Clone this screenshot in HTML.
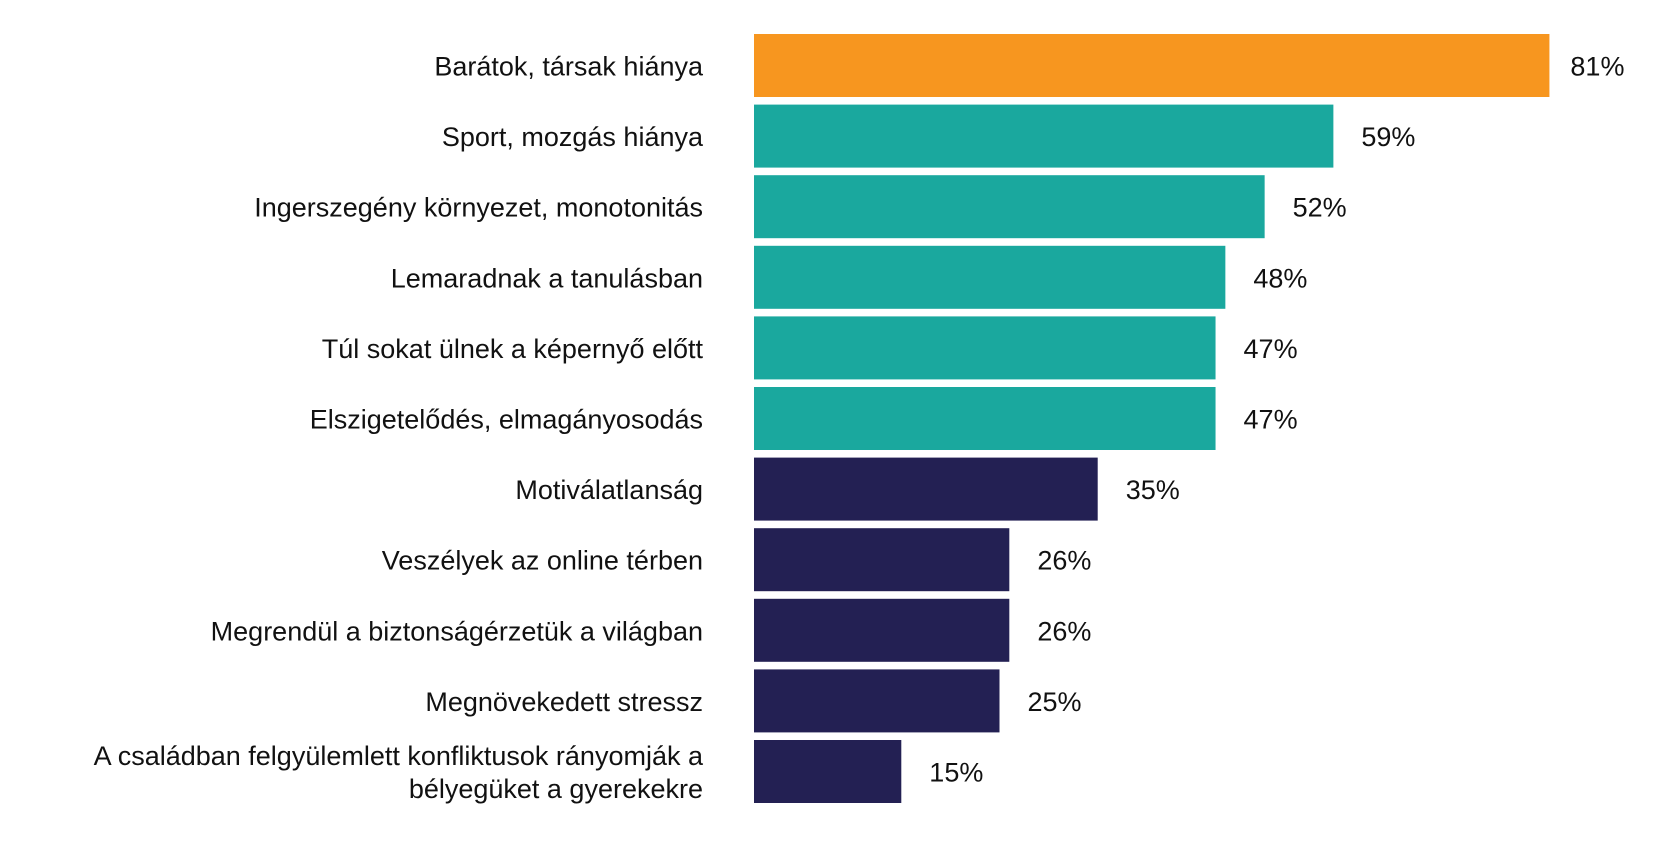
<!DOCTYPE html>
<html><head><meta charset="utf-8"><style>
body{margin:0;background:#fff;}
svg text{font-family:"Liberation Sans",sans-serif;font-size:27px;fill:#111;}
</style></head><body>
<svg id="chart" width="1658" height="856" xmlns="http://www.w3.org/2000/svg"></svg>
<script>
const categories=["Barátok, társak hiánya","Sport, mozgás hiánya","Ingerszegény környezet, monotonitás","Lemaradnak a tanulásban","Túl sokat ülnek a képernyő előtt","Elszigetelődés, elmagányosodás","Motiválatlanság","Veszélyek az online térben","Megrendül a biztonságérzetük a világban","Megnövekedett stressz","A családban felgyülemlett konfliktusok rányomják a|bélyegüket a gyerekekre"];
const values=[81,59,52,48,47,47,35,26,26,25,15];
const groups=["top","mid","mid","mid","mid","mid","low","low","low","low","low"];
const colors={top:"#F7961F",mid:"#1AA89E",low:"#232053"};
const svg=document.getElementById('chart');
const NS="http://www.w3.org/2000/svg";
const x0=754, perPct=9.82, y0=34, pitch=70.6, bh=63;
const xs=v=>x0+v*perPct;
const ys=i=>y0+i*pitch;
categories.forEach((c,i)=>{
  const r=document.createElementNS(NS,'rect');
  
  
  r.setAttribute('x',x0);r.setAttribute('y',ys(i));
  r.setAttribute('width',xs(values[i])-x0);r.setAttribute('height',bh);
  r.setAttribute('fill',colors[groups[i]]);
  svg.appendChild(r);
  const v=document.createElementNS(NS,'text');
  
  
  v.setAttribute('x',xs(values[i])+(i==0?21:28));
  v.setAttribute('y',ys(i)+bh/2+10);
  v.textContent=values[i]+'%';
  svg.appendChild(v);
  const lines=c.split('|');
  lines.forEach((ln,j)=>{
    const t=document.createElementNS(NS,'text');
    
    
    t.setAttribute('x',703);t.setAttribute('text-anchor','end');
    const cy=ys(i)+bh/2+10+(lines.length>1?(j-0.5)*33:0);
    t.setAttribute('y',cy);
    t.textContent=ln;
    svg.appendChild(t);
  });
});
</script>
</body></html>
